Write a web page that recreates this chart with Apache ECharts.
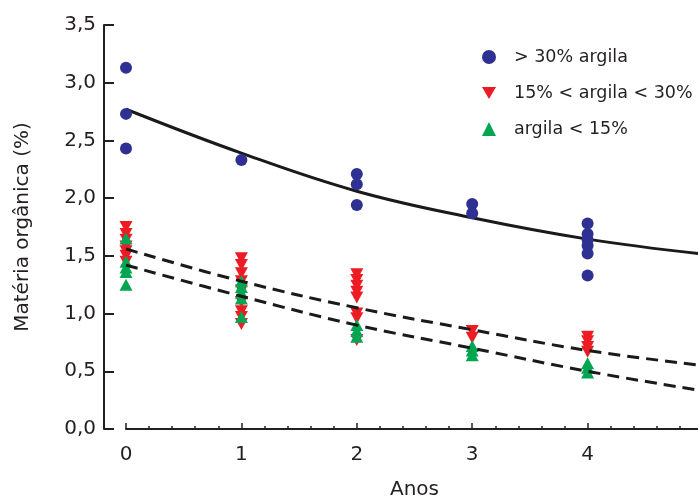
<!DOCTYPE html>
<html>
<head>
<meta charset="utf-8">
<script src="https://cdn.jsdelivr.net/npm/echarts@6/dist/echarts.min.js"></script>
<style>html,body{margin:0;padding:0;background:#fff}#c{width:698px;height:499px}</style>
</head>
<body>
<div id="c"></div>
<script>
// Series names
const seriesNames = ['> 30% argila', '15% < argila < 30%', 'argila < 15%'];

// Scatter observations [year, organic matter %]
const highClay = [
  [0,3.13],[0,2.73],[0,2.43],
  [1,2.33],
  [2,2.21],[2,2.12],[2,1.94],
  [3,1.95],[3,1.87],
  [4,1.78],[4,1.69],[4,1.64],[4,1.59],[4,1.52],[4,1.33]
];
const midClay = [
  [0,1.75],[0,1.69],[0,1.64],[0,1.58],[0,1.54],[0,1.50],[0,1.45],
  [1,1.48],[1,1.42],[1,1.35],[1,1.28],[1,1.20],[1,1.10],[1,1.02],[1,0.97],[1,0.91],
  [2,1.34],[2,1.29],[2,1.24],[2,1.19],[2,1.14],[2,1.00],[2,0.96],[2,0.77],
  [3,0.85],[3,0.79],
  [4,0.80],[4,0.76],[4,0.71],[4,0.67]
];
const lowClay = [
  [0,1.65],[0,1.45],[0,1.40],[0,1.36],[0,1.25],
  [1,1.28],[1,1.23],[1,1.18],[1,1.13],[1,0.97],
  [2,0.90],[2,0.85],[2,0.80],
  [3,0.72],[3,0.68],[3,0.64],
  [4,0.57],[4,0.53],[4,0.49]
];

// Fitted curves
const fitX = [0,1,2,3,4,5];
const fitHigh = [2.77,2.39,2.06,1.83,1.645,1.515];
const fitMid  = [1.56,1.28,1.05,0.86,0.68,0.55];
const fitLow  = [1.42,1.15,0.90,0.70,0.50,0.33];

// Axis ticks
const yTicks = [0,0.5,1,1.5,2,2.5,3,3.5];
const xTicks = [0,1,2,3,4,5];

const pair = (xs, ys) => xs.map((x,i) => [x, ys[i]]);
const FONT = 'DejaVu Sans';
const AX = '#231f20';
const triDown = 'path://M0,0 L10,0 L5,8.7 Z';

const chart = echarts.init(document.getElementById('c'), null, {renderer:'canvas'});
chart.setOption({
  animation: false,
  backgroundColor: '#ffffff',
  textStyle: {fontFamily: FONT},
  legend: {
    orient: 'vertical',
    left: 477, top: 43,
    itemWidth: 14, itemHeight: 14, itemGap: 18,
    data: seriesNames,
    textStyle: {fontFamily: FONT, fontSize: 17.5, color: '#231f20', padding: [0,0,0,13]}
  },
  grid: {left: 126, top: 25, width: 577, height: 404, outerBoundsMode: 'none', containLabel: false},
  xAxis: {
    type: 'value', min: xTicks[0], max: xTicks[xTicks.length-1], interval: 1,
    name: 'Anos', nameLocation: 'middle', nameGap: 51,
    nameTextStyle: {fontFamily: FONT, fontSize: 20, color: '#231f20'},
    axisLine: {show: true, onZero: false, lineStyle: {color: AX, width: 2}},
    axisTick: {show: true, inside: true, length: 6, lineStyle: {color: AX, width: 1.5}},
    minorTick: {show: true, splitNumber: 5, length: 3, lineStyle: {color: AX, width: 1.5}},
    axisLabel: {fontFamily: FONT, fontSize: 20, color: '#231f20', margin: 16, hideOverlap: false, showMaxLabel: true},
    splitLine: {show: false}, minorSplitLine: {show: false}
  },
  yAxis: {
    type: 'value', min: yTicks[0], max: yTicks[yTicks.length-1], interval: 0.5,
    offset: 22,
    name: 'Matéria orgânica (%)', nameLocation: 'middle', nameGap: 71,
    nameTextStyle: {fontFamily: FONT, fontSize: 20, color: '#231f20'},
    axisLine: {show: true, onZero: false, lineStyle: {color: AX, width: 2}},
    axisTick: {show: true, inside: true, length: 10, lineStyle: {color: AX, width: 2}},
    axisLabel: {fontFamily: FONT, fontSize: 20, color: '#231f20', margin: 8,
      formatter: v => v.toFixed(1).replace('.', ',')},
    splitLine: {show: false}
  },
  series: [
    {name: 'fitHigh', type: 'line', data: pair(fitX, fitHigh), smooth: 0.4, showSymbol: false, silent: true,
      lineStyle: {color: '#1a1a1a', width: 3}, z: 1},
    {name: 'fitMid', type: 'line', data: pair(fitX, fitMid), smooth: 0.4, showSymbol: false, silent: true,
      lineStyle: {color: '#1a1a1a', width: 3, type: [12, 7]}, z: 3},
    {name: 'fitLow', type: 'line', data: pair(fitX, fitLow), smooth: 0.4, showSymbol: false, silent: true,
      lineStyle: {color: '#1a1a1a', width: 3, type: [12, 7]}, z: 3},
    {name: seriesNames[0], type: 'scatter', data: highClay, symbol: 'circle', symbolSize: 12,
      itemStyle: {color: '#2e3192', opacity: 1}, z: 2},
    {name: seriesNames[1], type: 'scatter', data: midClay, symbol: triDown, symbolSize: [13, 12],
      itemStyle: {color: '#ed1c24', opacity: 1}, z: 2},
    {name: seriesNames[2], type: 'scatter', data: lowClay, symbol: 'triangle', symbolSize: [13, 12],
      itemStyle: {color: '#00a651', opacity: 1}, z: 2}
  ]
});
</script>
</body>
</html>
